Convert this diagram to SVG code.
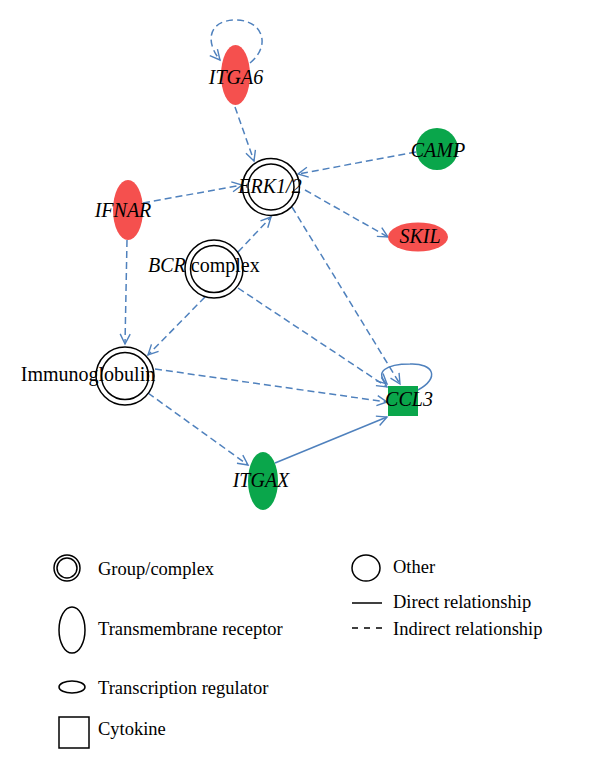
<svg xmlns="http://www.w3.org/2000/svg" width="600" height="769" viewBox="0 0 600 769">
<defs>
<marker id="arr" markerUnits="userSpaceOnUse" markerWidth="14" markerHeight="14" refX="11" refY="6" orient="auto">
<path d="M1,1 L11,6 L1,11" fill="none" stroke="#4f81bd" stroke-width="1.4"/>
</marker>
</defs>
<style>
.lbl{font-family:"Liberation Serif","Times New Roman",serif;font-size:20px;fill:#000}
.it{font-style:italic}
.leg{font-family:"Liberation Serif","Times New Roman",serif;font-size:18.5px;fill:#000}
.e{fill:none;stroke:#4f81bd;stroke-width:1.5;marker-end:url(#arr)}
.d{stroke-dasharray:7,4}
.red{fill:#f5504e}
.green{fill:#0aa64b}
.ring{fill:#fff;stroke:#000;stroke-width:1.5}
.ls{fill:none;stroke:#000;stroke-width:1.5}
</style>
<rect width="600" height="769" fill="#fff"/>

<g id="connectors">
<path class="e d" d="M250,63 C272,45 262,20 236,20 C208,20 205,42 220,60"/>
<path class="e d" d="M235,107 L254,161"/>
<path class="e d" d="M416,152 L298,174"/>
<path class="e d" d="M143,203 L242,185"/>
<path class="e d" d="M305,190 L388,237"/>
<path class="e d" d="M292,207 L400,384"/>
<path class="e d" d="M238,252 L271,217"/>
<path class="e d" d="M127,240 L125,344"/>
<path class="e d" d="M205,297 L148,355"/>
<path class="e d" d="M238,288 L387,387"/>
<path class="e d" d="M155,369 L387,402"/>
<path class="e d" d="M148,393 L248,465"/>
<path class="e" d="M275,463 L387,417"/>
<path class="e" d="M418,390 C440,378 434,363 410,364 C386,364 374,372 387,384"/>
</g>

<g id="ITGA6"><ellipse class="red" cx="235.5" cy="75" rx="14.5" ry="30"/><text class="lbl it" x="236" y="84" text-anchor="middle">ITGA6</text></g>
<g id="ERK12"><circle class="ring" cx="271" cy="187" r="28.5"/><circle class="ring" cx="271" cy="187" r="23"/><text class="lbl it" x="270" y="193" text-anchor="middle">ERK1/2</text></g>
<g id="CAMP"><circle class="green" cx="437" cy="149" r="21"/><text class="lbl it" x="438" y="157" text-anchor="middle">CAMP</text></g>
<g id="SKIL"><ellipse class="red" cx="418" cy="237" rx="30" ry="14.5"/><text class="lbl it" x="420" y="243" text-anchor="middle">SKIL</text></g>
<g id="IFNAR"><ellipse class="red" cx="128" cy="210" rx="15" ry="30"/><text class="lbl it" x="123" y="217" text-anchor="middle">IFNAR</text></g>
<g id="BCR"><circle class="ring" cx="214" cy="269" r="29"/><circle class="ring" cx="214" cy="269" r="23.5"/><text class="lbl" x="148" y="272"><tspan class="it">BCR</tspan> complex</text></g>
<g id="Immunoglobulin"><circle class="ring" cx="125" cy="376" r="29"/><circle class="ring" cx="125" cy="376" r="23.5"/><text class="lbl" x="88" y="381" text-anchor="middle">Immunoglobulin</text></g>
<g id="CCL3"><rect class="green" x="388" y="386" width="30" height="30"/><text class="lbl it" x="409" y="406" text-anchor="middle">CCL3</text></g>
<g id="ITGAX"><ellipse class="green" cx="263" cy="481" rx="15" ry="29"/><text class="lbl it" x="261" y="487" text-anchor="middle">ITGAX</text></g>

<g id="legend">
<circle class="ls" cx="67" cy="568" r="13"/><circle class="ls" cx="67" cy="568" r="10"/>
<text class="leg" x="98" y="575">Group/complex</text>
<ellipse class="ls" cx="72" cy="630" rx="13" ry="23"/>
<text class="leg" x="98" y="635">Transmembrane receptor</text>
<ellipse class="ls" cx="72" cy="687" rx="13" ry="6"/>
<text class="leg" x="98" y="694">Transcription regulator</text>
<rect class="ls" x="59" y="717" width="30" height="31"/>
<text class="leg" x="98" y="735">Cytokine</text>
<ellipse class="ls" cx="366" cy="568" rx="14" ry="13"/>
<text class="leg" x="393" y="573">Other</text>
<line class="ls" x1="352" y1="603" x2="382" y2="603"/>
<text class="leg" x="393" y="608">Direct relationship</text>
<line class="ls" x1="352" y1="628" x2="382" y2="628" stroke-dasharray="6,6"/>
<text class="leg" x="393" y="635">Indirect relationship</text>
</g>
</svg>
